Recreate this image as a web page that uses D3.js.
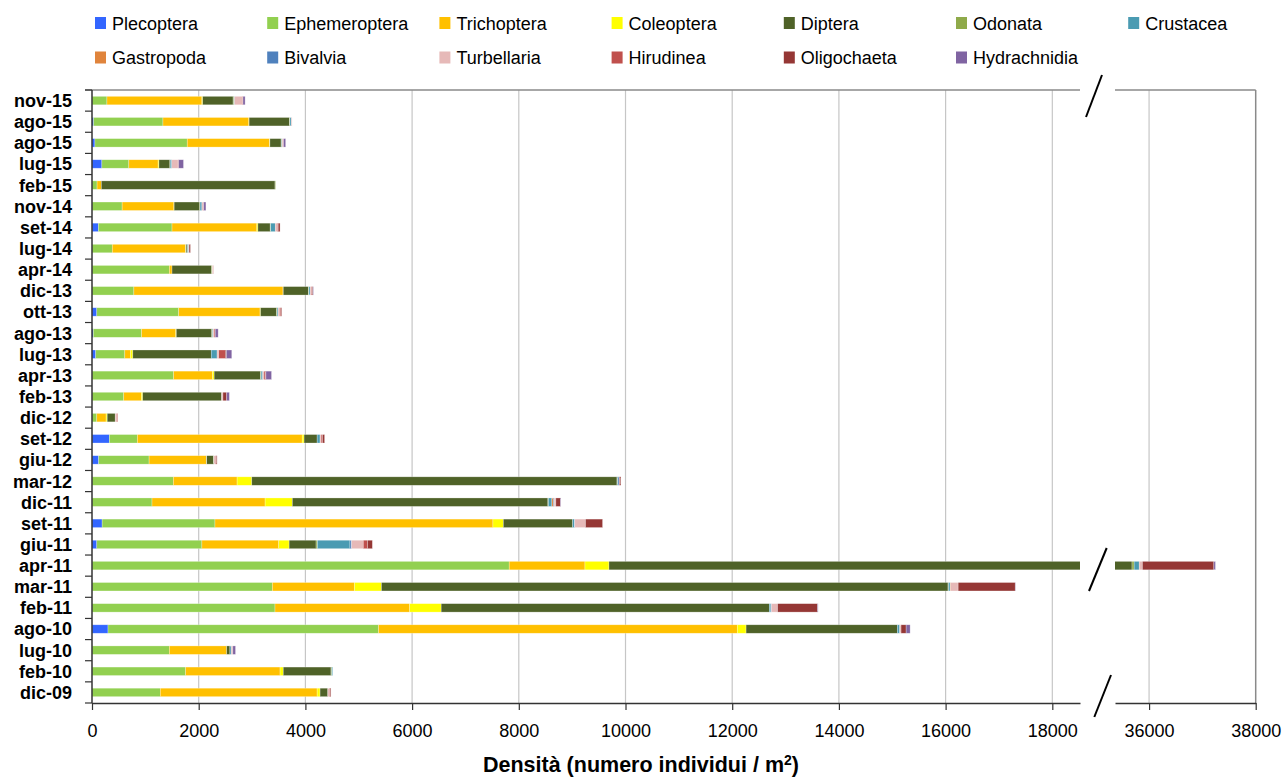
<!DOCTYPE html>
<html><head><meta charset="utf-8">
<script src="https://cdn.jsdelivr.net/npm/d3@7"></script>
<style>
body{margin:0;background:#fff;}
svg{display:block;font-family:"Liberation Sans",Arial,sans-serif;}
</style>
</head><body>
<svg id="c" width="1283" height="778"></svg>
<script>
// ---------- DATA ----------
const categories = ["nov-15","ago-15","ago-15","lug-15","feb-15","nov-14","set-14","lug-14","apr-14",
  "dic-13","ott-13","ago-13","lug-13","apr-13","feb-13","dic-12","set-12","giu-12","mar-12",
  "dic-11","set-11","giu-11","apr-11","mar-11","feb-11","ago-10","lug-10","feb-10","dic-09"];
const seriesNames = ["Plecoptera","Ephemeroptera","Trichoptera","Coleoptera","Diptera","Odonata",
  "Crustacea","Gastropoda","Bivalvia","Turbellaria","Hirudinea","Oligochaeta","Hydrachnidia"];
const seriesColors = ["#3366FF","#92D050","#FFC000","#FFFF00","#4F6228","#8FAA4A",
  "#4A9BB2","#E0843C","#4F81BD","#E6B9B8","#C0504D","#953735","#8064A2"];

const plecoptera    = [0,30,55,185,0,0,120,0,0,0,90,25,70,0,0,0,325,125,0,0,190,90,0,0,0,300,0,0,0];
const ephemeroptera = [280,1300,1730,505,95,565,1380,380,1450,785,1535,905,545,1530,595,90,525,945,1525,1125,2115,1970,7820,3380,3430,5070,1450,1755,1280];
const trichoptera   = [1780,1610,1545,550,80,970,1590,1375,50,2795,1525,640,110,730,330,175,3090,1075,1195,2120,5210,1440,1420,1540,2525,6725,1075,1770,2940];
const coleoptera    = [15,5,5,15,0,5,20,5,0,5,10,10,40,30,25,20,35,5,275,510,195,195,450,505,590,165,0,60,55];
const diptera       = [570,755,210,205,3255,480,230,20,740,470,300,665,1470,870,1480,150,245,130,6845,4790,1300,505,25990,10620,6150,2835,60,895,145];
const odonata       = [15,10,10,5,10,5,10,10,15,10,10,15,0,10,0,0,0,5,10,10,0,25,40,10,0,0,0,15,0];
const crustacea     = [10,25,10,30,0,35,85,20,0,25,20,10,110,30,0,0,55,0,10,65,30,610,95,30,30,45,25,15,0];
const gastropoda    = [0,0,0,0,0,0,0,0,0,0,0,0,0,0,0,0,0,0,0,30,0,0,0,10,0,0,0,0,0];
const bivalvia      = [0,0,0,0,0,0,0,0,0,0,0,0,0,0,0,0,0,0,25,15,10,30,0,0,10,0,0,0,0];
const turbellaria   = [150,15,20,120,0,25,40,10,15,20,25,20,30,25,25,25,20,30,0,30,200,220,60,140,115,25,30,0,30];
const hirudinea     = [10,0,5,10,0,10,15,0,5,15,25,20,125,25,0,20,25,15,15,0,0,80,0,0,0,0,0,0,15];
const oligochaeta   = [0,0,0,0,0,0,35,25,0,15,15,0,20,10,70,0,40,15,15,85,320,90,1340,1070,750,95,0,0,15];
const hydrachnidia  = [40,0,40,90,0,40,0,0,0,10,0,55,100,105,50,0,0,0,0,10,0,0,30,5,10,75,50,0,0];

const ticksLeft  = [0,2000,4000,6000,8000,10000,12000,14000,16000,18000];
const ticksRight = [36000,38000];
const axisTitle = "Densità (numero individui / m";

const seriesValues = [plecoptera,ephemeroptera,trichoptera,coleoptera,diptera,odonata,crustacea,
  gastropoda,bivalvia,turbellaria,hirudinea,oligochaeta,hydrachnidia];

// ---------- LAYOUT ----------
const svg = d3.select("#c");
const plotTop = 90, plotBottom = 703, plotLeft = 92;
const leftEnd = 1080, rightStart = 1115, rightEnd = 1255.7;

const xL = d3.scaleLinear().domain([0, 18519]).range([plotLeft, leftEnd]);
const xR = d3.scaleLinear().domain([35361, 38000]).range([rightStart, rightEnd]);

const y = d3.scaleBand().domain(d3.range(categories.length)).range([plotTop, plotBottom])
  .paddingInner(0.6).paddingOuter(0.3);
const step = y.step();

const rows = categories.map((c,i) => {
  const o = {idx:i};
  seriesNames.forEach((s,k) => o[s] = seriesValues[k][i]);
  return o;
});
const stacked = d3.stack().keys(seriesNames)(rows);

// clip paths
const defs = svg.append("defs");
defs.append("clipPath").attr("id","clipL").append("rect")
  .attr("x",plotLeft).attr("y",plotTop).attr("width",leftEnd-plotLeft).attr("height",plotBottom-plotTop);
defs.append("clipPath").attr("id","clipR").append("rect")
  .attr("x",rightStart).attr("y",plotTop).attr("width",rightEnd-rightStart).attr("height",plotBottom-plotTop);

// gridlines
const grid = svg.append("g");
grid.selectAll("line.gl").data(ticksLeft.slice(1)).join("line")
  .attr("x1",d=>xL(d)).attr("x2",d=>xL(d)).attr("y1",plotTop).attr("y2",plotBottom)
  .attr("stroke","#c6c6c6").attr("stroke-width",1.2);
grid.selectAll("line.gr").data(ticksRight.slice(0,1)).join("line")
  .attr("x1",d=>xR(d)).attr("x2",d=>xR(d)).attr("y1",plotTop).attr("y2",plotBottom)
  .attr("stroke","#c6c6c6").attr("stroke-width",1.2);

// bars
[["clipL",xL],["clipR",xR]].forEach(([clip,sc]) => {
  const g = svg.append("g").attr("clip-path",`url(#${clip})`);
  g.selectAll("g.s").data(stacked).join("g")
    .attr("fill",(d,i)=>seriesColors[i])
    .selectAll("rect").data(d=>d.filter(p=>p[1]>p[0])).join("rect")
    .attr("x",d=>sc(d[0])).attr("width",d=>Math.max(0,sc(d[1])-sc(d[0])))
    .attr("y",d=>y(d.data.idx)).attr("height",y.bandwidth())
    .attr("stroke","#ffffff").attr("stroke-opacity",0.45).attr("stroke-width",0.6);
});

// frame: top border and right border
svg.append("line").attr("x1",plotLeft-7).attr("x2",leftEnd).attr("y1",plotTop).attr("y2",plotTop)
  .attr("stroke","#8a8a8a").attr("stroke-width",1.5);
svg.append("line").attr("x1",rightStart).attr("x2",rightEnd).attr("y1",plotTop).attr("y2",plotTop)
  .attr("stroke","#8a8a8a").attr("stroke-width",1.5);
svg.append("line").attr("x1",rightEnd).attr("x2",rightEnd).attr("y1",plotTop).attr("y2",plotBottom)
  .attr("stroke","#8a8a8a").attr("stroke-width",1.5);

// left axis
svg.append("line").attr("x1",plotLeft).attr("x2",plotLeft).attr("y1",plotTop).attr("y2",plotBottom)
  .attr("stroke","#333").attr("stroke-width",1.5);
svg.append("g").selectAll("line").data(d3.range(categories.length+1)).join("line")
  .attr("x1",plotLeft-7).attr("x2",plotLeft).attr("y1",i=>plotTop+i*step).attr("y2",i=>plotTop+i*step)
  .attr("stroke","#333").attr("stroke-width",1.2);
svg.append("g").selectAll("text").data(categories).join("text")
  .attr("x",72).attr("y",(d,i)=>y(i)+y.bandwidth()/2).attr("dy","0.36em")
  .attr("text-anchor","end").attr("font-weight","bold").attr("font-size",18).attr("fill","#000")
  .text(d=>d);

// bottom axes
function styleAxis(g){
  g.select(".domain").attr("stroke","#333").attr("stroke-width",1.5);
  g.selectAll(".tick line").attr("stroke","#333").attr("stroke-width",1.2);
  g.selectAll(".tick text").attr("font-size",18).attr("fill","#000")
   .attr("font-family","'Liberation Sans',Arial,sans-serif");
}
svg.append("g").attr("transform",`translate(0,${plotBottom})`)
  .call(d3.axisBottom(xL).tickValues(ticksLeft).tickFormat(d3.format("d")).tickSizeInner(7).tickSizeOuter(0).tickPadding(14))
  .call(styleAxis);
svg.append("g").attr("transform",`translate(0,${plotBottom})`)
  .call(d3.axisBottom(xR).tickValues(ticksRight).tickFormat(d3.format("d")).tickSizeInner(7).tickSizeOuter(0).tickPadding(14))
  .call(styleAxis);

// break marks
const breaks = [[1102,75,1086,117],[1106.7,548,1089,591],[1111,675,1094.3,717]];
svg.append("g").selectAll("line").data(breaks).join("line")
  .attr("x1",d=>d[0]).attr("y1",d=>d[1]).attr("x2",d=>d[2]).attr("y2",d=>d[3])
  .attr("stroke","#000").attr("stroke-width",2);

// axis title
const t = svg.append("text").attr("x",641).attr("y",772).attr("text-anchor","middle")
  .attr("font-weight","bold").attr("font-size",21.5).attr("fill","#000");
t.append("tspan").text(axisTitle);
t.append("tspan").attr("dy",-7).attr("font-size",14).text("2");
t.append("tspan").attr("dy",7).text(")");

// legend
const leg = svg.append("g");
seriesNames.forEach((s,i) => {
  const row = i < 7 ? 0 : 1, col = i < 7 ? i : i-7;
  const lx = 95 + col*172.2, ly = row===0 ? 17 : 51.5;
  leg.append("rect").attr("x",lx).attr("y",ly).attr("width",11).attr("height",12).attr("fill",seriesColors[i]);
  leg.append("text").attr("x",lx+17).attr("y",ly+12.5).attr("font-size",18).attr("fill","#000").text(s);
});
</script>
</body></html>
